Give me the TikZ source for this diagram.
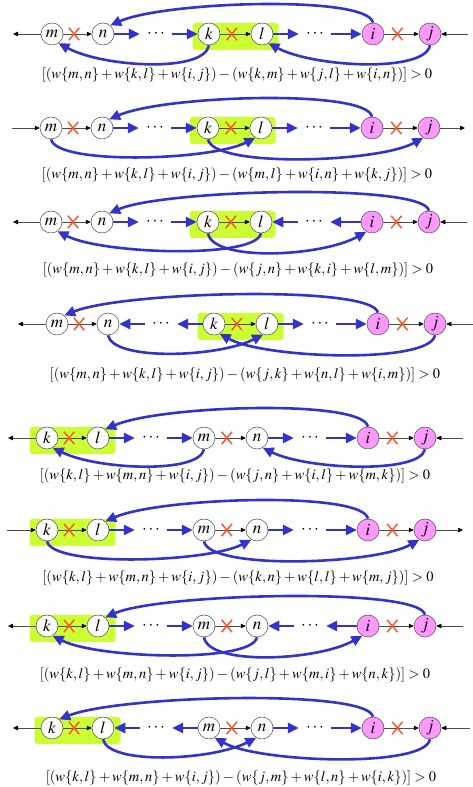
\documentclass[tikz,border=0pt]{standalone}
\usepackage{mathptmx}
\usepackage{tikz}
\usetikzlibrary{shapes.misc, arrows.meta, positioning}

\definecolor{flowblue}{RGB}{51,51,204}
\definecolor{pairgreen}{RGB}{204,255,51}
\definecolor{tgtpink}{RGB}{255,153,255}
\definecolor{cutred}{RGB}{255,80,40}

\begin{document}
\begin{tikzpicture}[x=1pt, y=1pt, node distance=53pt]
    % Define styles for the pieces
    \tikzstyle{vtx} = [circle, minimum size=22pt, inner sep=0pt, draw=black!70, line width=0.5pt, fill=white, font=\fontsize{17}{17}\selectfont]
    \tikzstyle{tgt} = [vtx, fill=tgtpink]
    \tikzstyle{gap} = [minimum width=32pt, inner sep=0pt, font=\fontsize{17}{17}\selectfont]
    \tikzstyle{pair} = [rectangle, rounded corners=3pt, fill=pairgreen, minimum width=86pt, minimum height=27pt, xshift=26.5pt, yshift=-2.5pt]
    \tikzstyle{link} = [black!70, line width=0.5pt, -{Triangle[length=5pt, width=4.5pt, color=black]}]
    \tikzstyle{flow} = [flowblue, line width=2.6pt, -{Triangle[length=11pt, width=10pt]}]
    \tikzstyle{cut} = [cross out, draw=cutred, line width=1.4pt, minimum width=9pt, minimum height=11pt, inner sep=0pt, pos=0.38]
    \tikzstyle{formula} = [font=\fontsize{14.5}{14.5}\selectfont]

    \useasboundingbox (0,0) rectangle (473,787);

    % Case 1
    \begin{scope}[yshift=753pt]
        \node (m1) [vtx] at (52,0) {$m$};
        \node (n1) [vtx, right of=m1, xshift=-2pt] {$n$};
        \node (d1) [gap, right of=n1] {$\cdots$};
        \node (p1) [pair, right of=d1] {};
        \node (k1) [vtx, right of=d1] {$k$};
        \node (l1) [vtx, right of=k1] {$l$};
        \node (e1) [gap, right of=l1] {$\cdots$};
        \node (i1) [tgt, right of=e1, xshift=5pt] {$i$};
        \node (j1) [tgt, right of=i1, xshift=4pt] {$j$};
        \coordinate (a1) at ([xshift=-39pt]m1.center);
        \coordinate (b1) at ([xshift=38pt]j1.center);
        \node (eq1) [formula] at (237,-41) {$[(w\{m,n\}+w\{k,l\}+w\{i,j\})-(w\{k,m\}+w\{j,l\}+w\{i,n\})]>0$};

        \draw [link] (m1) -- (a1);
        \draw [link] (b1) -- (j1);
        \draw [link] (m1) -- node[cut] {} (n1);
        \draw [link] (k1) -- node[cut] {} (l1);
        \draw [link] (i1) -- node[cut] {} (j1);
        \draw [flow] (n1) -- (d1);
        \draw [flow] (d1) -- (k1);
        \draw [flow] (l1) -- (e1);
        \draw [flow] (e1) -- (i1);
        \draw [flow] (i1.north) .. controls +(-5,28) and +(55,24) .. (n1.50);
        \draw [flow] (k1.south) .. controls +(-5,-28) and +(45,-24) .. (m1.-55);
        \draw [flow] (j1.south) .. controls +(-5,-28) and +(45,-24) .. (l1.-55);
    \end{scope}

    % Case 2
    \begin{scope}[yshift=659pt]
        \node (m2) [vtx] at (51,0) {$m$};
        \node (n2) [vtx, right of=m2, xshift=-2pt] {$n$};
        \node (d2) [gap, right of=n2] {$\cdots$};
        \node (p2) [pair, right of=d2, xshift=-2pt] {};
        \node (k2) [vtx, right of=d2] {$k$};
        \node (l2) [vtx, right of=k2] {$l$};
        \node (e2) [gap, right of=l2] {$\cdots$};
        \node (i2) [tgt, right of=e2, xshift=5pt] {$i$};
        \node (j2) [tgt, right of=i2, xshift=4pt] {$j$};
        \coordinate (a2) at ([xshift=-39pt]m2.center);
        \coordinate (b2) at ([xshift=36pt]j2.center);
        \node (eq2) [formula] at (237,-47) {$[(w\{m,n\}+w\{k,l\}+w\{i,j\})-(w\{m,l\}+w\{i,n\}+w\{k,j\})]>0$};

        \draw [link] (a2) -- (m2);
        \draw [link] (j2) -- (b2);
        \draw [link] (m2) -- node[cut] {} (n2);
        \draw [link] (k2) -- node[cut] {} (l2);
        \draw [link] (i2) -- node[cut] {} (j2);
        \draw [flow] (n2) -- (d2);
        \draw [flow] (d2) -- (k2);
        \draw [flow] (l2) -- (e2);
        \draw [flow] (e2) -- (i2);
        \draw [flow] (i2.north) .. controls +(-5,28) and +(55,24) .. (n2.50);
        \draw [flow] (m2.south) .. controls +(5,-26) and +(-45,-23) .. (l2.-120);
        \draw [flow] (k2.south) .. controls +(5,-29) and +(-45,-25) .. (j2.-120);
    \end{scope}

    % Case 3
    \begin{scope}[yshift=565pt]
        \node (m3) [vtx] at (51,0) {$m$};
        \node (n3) [vtx, right of=m3, xshift=-2pt] {$n$};
        \node (d3) [gap, right of=n3] {$\cdots$};
        \node (p3) [pair, right of=d3, xshift=-2pt] {};
        \node (k3) [vtx, right of=d3] {$k$};
        \node (l3) [vtx, right of=k3] {$l$};
        \node (e3) [gap, right of=l3] {$\cdots$};
        \node (i3) [tgt, right of=e3, xshift=5pt] {$i$};
        \node (j3) [tgt, right of=i3, xshift=4pt] {$j$};
        \coordinate (a3) at ([xshift=-38pt]m3.center);
        \coordinate (b3) at ([xshift=38pt]j3.center);
        \node (eq3) [formula] at (238,-48) {$[(w\{m,n\}+w\{k,l\}+w\{i,j\})-(w\{j,n\}+w\{k,i\}+w\{l,m\})]>0$};

        \draw [link] (m3) -- (a3);
        \draw [link] (b3) -- (j3);
        \draw [link] (m3) -- node[cut] {} (n3);
        \draw [link] (k3) -- node[cut] {} (l3);
        \draw [link] (i3) -- node[cut] {} (j3);
        \draw [flow] (n3) -- (d3);
        \draw [flow] (d3) -- (k3);
        \draw [flow] (i3) -- (e3);
        \draw [flow] (e3) -- (l3);
        \draw [flow] (j3.north) .. controls +(-5,28) and +(55,24) .. (n3.50);
        \draw [flow] (l3.south) .. controls +(-5,-26) and +(45,-23) .. (m3.-55);
        \draw [flow] (k3.south) .. controls +(5,-29) and +(-45,-25) .. (i3.-120);
    \end{scope}

    % Case 4
    \begin{scope}[yshift=463pt]
        \node (m4) [vtx] at (57,0) {$m$};
        \node (n4) [vtx, right of=m4, xshift=-2pt] {$n$};
        \node (d4) [gap, right of=n4] {$\cdots$};
        \node (p4) [pair, right of=d4] {};
        \node (k4) [vtx, right of=d4] {$k$};
        \node (l4) [vtx, right of=k4] {$l$};
        \node (e4) [gap, right of=l4] {$\cdots$};
        \node (i4) [tgt, right of=e4, xshift=5pt] {$i$};
        \node (j4) [tgt, right of=i4, xshift=4pt] {$j$};
        \coordinate (a4) at ([xshift=-39pt]m4.center);
        \coordinate (b4) at ([xshift=38pt]j4.center);
        \node (eq4) [formula] at (245,-51) {$[(w\{m,n\}+w\{k,l\}+w\{i,j\})-(w\{j,k\}+w\{n,l\}+w\{i,m\})]>0$};

        \draw [link] (m4) -- (a4);
        \draw [link] (b4) -- (j4);
        \draw [link] (m4) -- node[cut] {} (n4);
        \draw [link] (k4) -- node[cut] {} (l4);
        \draw [link] (i4) -- node[cut] {} (j4);
        \draw [flow] (k4) -- (d4);
        \draw [flow] (d4) -- (n4);
        \draw [flow] (l4) -- (e4);
        \draw [flow] (e4) -- (i4);
        \draw [flow] (i4.north) .. controls +(-5,28) and +(60,24) .. (m4.50);
        \draw [flow] (n4.south) .. controls +(5,-26) and +(-45,-23) .. (l4.-110);
        \draw [flow] (j4.south) .. controls +(-5,-29) and +(45,-25) .. (k4.-60);
    \end{scope}

    % Case 5
    \begin{scope}[yshift=349pt]
        \node (p5) [pair, xshift=-1pt] at (47,0) {};
        \node (k5) [vtx] at (47,0) {$k$};
        \node (l5) [vtx, right of=k5, xshift=-2pt] {$l$};
        \node (d5) [gap, right of=l5] {$\cdots$};
        \node (m5) [vtx, right of=d5] {$m$};
        \node (n5) [vtx, right of=m5] {$n$};
        \node (e5) [gap, right of=n5] {$\cdots$};
        \node (i5) [tgt, right of=e5, xshift=5pt] {$i$};
        \node (j5) [tgt, right of=i5, xshift=4pt] {$j$};
        \coordinate (a5) at ([xshift=-39pt]k5.center);
        \coordinate (b5) at ([xshift=38pt]j5.center);
        \node (eq5) [formula] at (235,-38) {$[(w\{k,l\}+w\{m,n\}+w\{i,j\})-(w\{j,n\}+w\{i,l\}+w\{m,k\})]>0$};

        \draw [link] (k5) -- (a5);
        \draw [link] (b5) -- (j5);
        \draw [link] (k5) -- node[cut] {} (l5);
        \draw [link] (m5) -- node[cut] {} (n5);
        \draw [link] (i5) -- node[cut] {} (j5);
        \draw [flow] (l5) -- (d5);
        \draw [flow] (d5) -- (m5);
        \draw [flow] (n5) -- (e5);
        \draw [flow] (e5) -- (i5);
        \draw [flow] (i5.north) .. controls +(-5,28) and +(55,24) .. (l5.50);
        \draw [flow] (m5.south) .. controls +(-5,-25) and +(45,-22) .. (k5.-60);
        \draw [flow] (j5.south) .. controls +(-5,-25) and +(45,-22) .. (n5.-60);
    \end{scope}

    % Case 6
    \begin{scope}[yshift=257pt]
        \node (p6) [pair, xshift=-1pt] at (47,0) {};
        \node (k6) [vtx] at (47,0) {$k$};
        \node (l6) [vtx, right of=k6, xshift=-2pt] {$l$};
        \node (d6) [gap, right of=l6] {$\cdots$};
        \node (m6) [vtx, right of=d6] {$m$};
        \node (n6) [vtx, right of=m6] {$n$};
        \node (e6) [gap, right of=n6] {$\cdots$};
        \node (i6) [tgt, right of=e6, xshift=5pt] {$i$};
        \node (j6) [tgt, right of=i6, xshift=4pt] {$j$};
        \coordinate (a6) at ([xshift=-40pt]k6.center);
        \coordinate (b6) at ([xshift=38pt]j6.center);
        \node (eq6) [formula] at (238,-48) {$[(w\{k,l\}+w\{m,n\}+w\{i,j\})-(w\{k,n\}+w\{l,l\}+w\{m,j\})]>0$};

        \draw [link] (a6) -- (k6);
        \draw [link] (j6) -- (b6);
        \draw [link] (k6) -- node[cut] {} (l6);
        \draw [link] (m6) -- node[cut] {} (n6);
        \draw [link] (i6) -- node[cut] {} (j6);
        \draw [flow] (l6) -- (d6);
        \draw [flow] (d6) -- (m6);
        \draw [flow] (n6) -- (e6);
        \draw [flow] (e6) -- (i6);
        \draw [flow] (i6.north) .. controls +(-5,28) and +(55,24) .. (l6.50);
        \draw [flow] (k6.south) .. controls +(5,-26) and +(-45,-23) .. (n6.-120);
        \draw [flow] (m6.south) .. controls +(5,-29) and +(-45,-25) .. (j6.-120);
    \end{scope}

    % Case 7
    \begin{scope}[yshift=161pt]
        \node (p7) [pair, xshift=-1pt] at (47,0) {};
        \node (k7) [vtx] at (47,0) {$k$};
        \node (l7) [vtx, right of=k7, xshift=-2pt] {$l$};
        \node (d7) [gap, right of=l7] {$\cdots$};
        \node (m7) [vtx, right of=d7] {$m$};
        \node (n7) [vtx, right of=m7] {$n$};
        \node (e7) [gap, right of=n7] {$\cdots$};
        \node (i7) [tgt, right of=e7, xshift=5pt] {$i$};
        \node (j7) [tgt, right of=i7, xshift=4pt] {$j$};
        \coordinate (a7) at ([xshift=-39pt]k7.center);
        \coordinate (b7) at ([xshift=38pt]j7.center);
        \node (eq7) [formula] at (235,-49) {$[(w\{k,l\}+w\{m,n\}+w\{i,j\})-(w\{j,l\}+w\{m,i\}+w\{n,k\})]>0$};

        \draw [link] (k7) -- (a7);
        \draw [link] (b7) -- (j7);
        \draw [link] (k7) -- node[cut] {} (l7);
        \draw [link] (m7) -- node[cut] {} (n7);
        \draw [link] (i7) -- node[cut] {} (j7);
        \draw [flow] (l7) -- (d7);
        \draw [flow] (d7) -- (m7);
        \draw [flow] (i7) -- (e7);
        \draw [flow] (e7) -- (n7);
        \draw [flow] (j7.north) .. controls +(-5,28) and +(55,24) .. (l7.50);
        \draw [flow] (n7.south) .. controls +(-5,-26) and +(45,-23) .. (k7.-60);
        \draw [flow] (m7.south) .. controls +(5,-29) and +(-45,-25) .. (i7.-120);
    \end{scope}

    % Case 8
    \begin{scope}[yshift=59pt]
        \node (p8) [pair, xshift=-1pt] at (52,0) {};
        \node (k8) [vtx] at (52,0) {$k$};
        \node (l8) [vtx, right of=k8, xshift=-2pt] {$l$};
        \node (d8) [gap, right of=l8] {$\cdots$};
        \node (m8) [vtx, right of=d8] {$m$};
        \node (n8) [vtx, right of=m8] {$n$};
        \node (e8) [gap, right of=n8] {$\cdots$};
        \node (i8) [tgt, right of=e8, xshift=5pt] {$i$};
        \node (j8) [tgt, right of=i8, xshift=4pt] {$j$};
        \coordinate (a8) at ([xshift=-39pt]k8.center);
        \coordinate (b8) at ([xshift=40pt]j8.center);
        \node (eq8) [formula] at (241,-50) {$[(w\{k,l\}+w\{m,n\}+w\{i,j\})-(w\{j,m\}+w\{l,n\}+w\{i,k\})]>0$};

        \draw [link] (k8) -- (a8);
        \draw [link] (b8) -- (j8);
        \draw [link] (k8) -- node[cut] {} (l8);
        \draw [link] (m8) -- node[cut] {} (n8);
        \draw [link] (i8) -- node[cut] {} (j8);
        \draw [flow] (m8) -- (d8);
        \draw [flow] (d8) -- (l8);
        \draw [flow] (n8) -- (e8);
        \draw [flow] (e8) -- (i8);
        \draw [flow] (i8.north) .. controls +(-5,28) and +(60,24) .. (k8.50);
        \draw [flow] (l8.south) .. controls +(5,-26) and +(-45,-23) .. (n8.-120);
        \draw [flow] (j8.south) .. controls +(-5,-29) and +(45,-25) .. (m8.-60);
    \end{scope}

\end{tikzpicture}
\end{document}
